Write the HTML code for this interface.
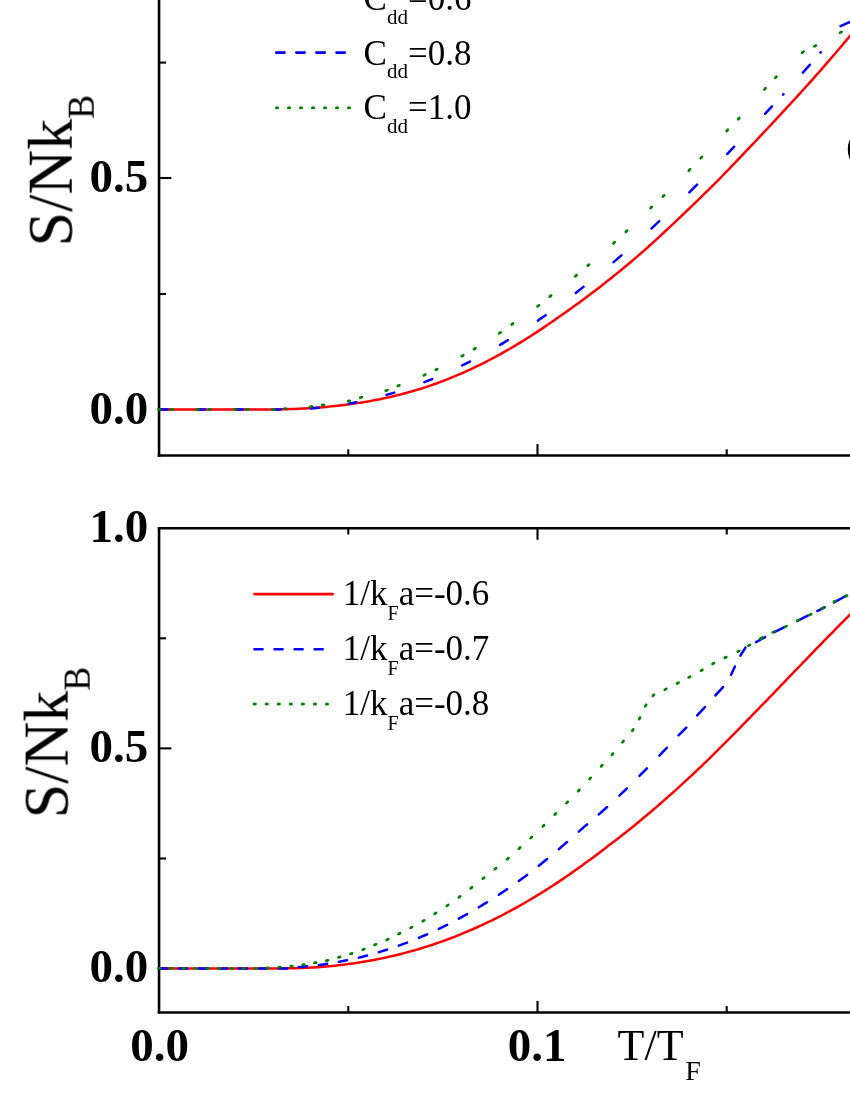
<!DOCTYPE html>
<html><head><meta charset="utf-8"><title>chart</title>
<style>
html,body{margin:0;padding:0;background:#fff;width:850px;height:1100px;overflow:hidden;font-family:"Liberation Serif",serif;}
svg{display:block;position:absolute;left:0;top:0}
</style></head><body>
<svg width="850" height="1100" viewBox="0 0 850 1100">
<rect width="850" height="1100" fill="#fff"/>
<g stroke="#000" fill="none" stroke-linecap="butt">
<path d="M159.05 -5 V456.9" stroke-width="2.6"/>
<path d="M157.75 455.6 H860" stroke-width="2.5"/>
<path d="M159.05 526.9 V1013.6" stroke-width="2.6"/>
<path d="M157.75 528.2 H860" stroke-width="2.6"/>
<path d="M157.75 1012.4 H860" stroke-width="2.5"/>
<path d="M159 62.6 H166" stroke-width="2.1"/>
<path d="M159 178 H171.4" stroke-width="2.1"/>
<path d="M159 294 H166" stroke-width="2.1"/>
<path d="M159 409.5 H171.4" stroke-width="2.1"/>
<path d="M159 638.3 H166" stroke-width="2.1"/>
<path d="M159 748.4 H171.4" stroke-width="2.1"/>
<path d="M159 858.5 H166" stroke-width="2.1"/>
<path d="M159 968.5 H171.4" stroke-width="2.1"/>
<path d="M348.3 455.6 V449.3" stroke-width="2.1"/>
<path d="M348.3 528.2 V534.5" stroke-width="2.1"/>
<path d="M348.3 1012.4 V1006.1" stroke-width="2.1"/>
<path d="M537.5 455.6 V444.1" stroke-width="2.1"/>
<path d="M537.5 528.2 V539.7" stroke-width="2.1"/>
<path d="M537.5 1012.4 V1000.9" stroke-width="2.1"/>
<path d="M726.7 455.6 V449.3" stroke-width="2.1"/>
<path d="M726.7 528.2 V534.5" stroke-width="2.1"/>
<path d="M726.7 1012.4 V1006.1" stroke-width="2.1"/>
</g>
<g fill="none" stroke-width="2.5">
<path d="M159.6 409.5 H260 L260 409.5 L263 409.5 L266 409.5 L269 409.5 L272 409.48 L275 409.45 L278 409.41 L281 409.36 L284 409.29 L287 409.21 L290 409.12 L293 409.01 L296 408.89 L299 408.75 L302 408.6 L305 408.44 L308 408.27 L311 408.08 L314 407.87 L317 407.65 L320 407.41 L323 407.16 L326 406.9 L329 406.62 L332 406.32 L335 406.01 L338 405.68 L341 405.33 L344 404.97 L347 404.59 L350 404.19 L353 403.77 L356 403.34 L359 402.88 L362 402.41 L365 401.92 L368 401.41 L371 400.87 L374 400.32 L377 399.75 L380 399.15 L383 398.54 L386 397.9 L389 397.24 L392 396.55 L395 395.84 L398 395.11 L401 394.35 L404 393.56 L407 392.76 L410 391.92 L413 391.06 L416 390.17 L419 389.26 L422 388.32 L425 387.35 L428 386.36 L431 385.34 L434 384.29 L437 383.21 L440 382.11 L443 380.98 L446 379.82 L449 378.63 L452 377.42 L455 376.18 L458 374.91 L461 373.62 L464 372.29 L467 370.94 L470 369.57 L473 368.16 L476 366.73 L479 365.27 L482 363.79 L485 362.28 L488 360.74 L491 359.17 L494 357.58 L497 355.96 L500 354.32 L503 352.65 L506 350.95 L509 349.23 L512 347.48 L515 345.7 L518 343.9 L521 342.08 L524 340.23 L527 338.36 L530 336.46 L533 334.53 L536 332.59 L539 330.62 L542 328.62 L545 326.6 L548 324.56 L551 322.5 L554 320.42 L557 318.31 L560 316.18 L563 314.1 L566 312.01 L569 309.89 L572 307.75 L575 305.6 L578 303.42 L581 301.22 L584 299.01 L587 296.77 L590 294.52 L593 292.24 L596 289.95 L599 287.64 L602 285.31 L605 282.96 L608 280.59 L611 278.21 L614 275.8 L617 273.37 L620 270.92 L623 268.45 L626 265.96 L629 263.46 L632 260.93 L635 258.39 L638 255.84 L641 253.26 L644 250.67 L647 248.01 L650 245.3 L653 242.57 L656 239.83 L659 237.07 L662 234.29 L665 231.5 L668 228.7 L671 225.88 L674 223.04 L677 220.19 L680 217.32 L683 214.48 L686 211.63 L689 208.76 L692 205.88 L695 202.98 L698 200.07 L701 197.15 L704 194.21 L707 191.26 L710 188.29 L713 185.32 L716 182.32 L719 179.32 L722 176.25 L725 173.16 L728 170.06 L731 166.95 L734 163.83 L737 160.7 L740 157.55 L743 154.4 L746 151.23 L749 148.06 L752 144.91 L755 141.75 L758 138.58 L761 135.4 L764 132.22 L767 129.02 L770 125.81 L773 122.59 L776 119.37 L779 116.14 L782 112.9 L785 109.65 L788 106.4 L791 103.13 L794 99.87 L797 96.59 L800 93.31 L803 90.03 L806 86.73 L809 83.43 L812 80.06 L815 76.66 L818 73.24 L821 69.81 L824 66.38 L827 62.93 L830 59.48 L833 56.01 L836 52.52 L839 48.98 L842 45.44 L845 41.87 L848 38.3 L851 34.76 L854 31.29 L857 27.81" stroke="#f00"/>
</g>
<g fill="none" stroke="#00f" stroke-width="2.5" stroke-linecap="round">
<path d="M160.6 409.5 H167.2"/>
<path d="M197.25 409.5 H205.05"/>
<path d="M235.1 409.5 H242.9"/>
<path d="M272.95 409.5 H280.75"/>
<path d="M310.8 408.42 L313.4 408.21 L316 407.99 L318.6 407.75"/>
<path d="M348.65 403.63 L351.25 403.16 L353.85 402.67 L356.45 402.16"/>
<path d="M386.5 394.9 L389.1 394.15 L391.7 393.39 L394.3 392.6"/>
<path d="M424.35 382.16 L426.95 381.14 L429.55 380.1 L432.15 379.04"/>
<path d="M462.2 365.45 L464.8 364.15 L467.4 362.84 L470 361.52"/>
<path d="M500.05 344.86 L502.65 343.31 L505.25 341.74 L507.85 340.15"/>
<path d="M537.9 320.6 L540.5 318.8 L543.1 316.99 L545.7 315.17"/>
<path d="M575.75 292.92 L578.35 290.9 L580.95 288.87 L583.55 286.82"/>
<path d="M613.6 262.11 L616.2 259.89 L618.8 257.65 L621.4 255.4"/>
<path d="M651.45 228.46 L654.05 226.06 L656.65 223.64 L659.25 221.21"/>
<path d="M689.3 192.31 L691.9 189.74 L694.5 187.16 L697.1 184.58"/>
<path d="M727.15 154.01 L729.48 151.58 L731.82 149.16 L734.15 146.72"/>
<path d="M765 113.95 L767.33 111.43 L769.67 108.91 L772 106.38"/>
<path d="M802.85 72.55 L805.18 69.97 L807.52 67.38 L809.85 64.79"/>
<path d="M840.6 26.2 L856 19"/>
<path d="M783.1 94.6 l0.4 -0.4"/>
<path d="M820.4 52.5 l0.4 -0.4"/>
</g>
<g fill="#007f00">
<ellipse cx="159.2" cy="409.5" rx="2.3" ry="1.45" transform="rotate(0 159.2 409.5)"/>
<ellipse cx="171.8" cy="409.5" rx="2.3" ry="1.45" transform="rotate(0 171.8 409.5)"/>
<ellipse cx="197.45" cy="409.5" rx="2.3" ry="1.45" transform="rotate(0 197.45 409.5)"/>
<ellipse cx="209.65" cy="409.5" rx="2.3" ry="1.45" transform="rotate(0 209.65 409.5)"/>
<ellipse cx="235.3" cy="409.5" rx="2.3" ry="1.45" transform="rotate(0 235.3 409.5)"/>
<ellipse cx="247.5" cy="409.5" rx="2.3" ry="1.45" transform="rotate(0 247.5 409.5)"/>
<ellipse cx="273.15" cy="409.5" rx="2.3" ry="1.45" transform="rotate(0 273.15 409.5)"/>
<ellipse cx="285.35" cy="408.6" rx="2.3" ry="1.45" transform="rotate(0 285.35 408.6)"/>
<ellipse cx="311" cy="406.6" rx="2.3" ry="1.45" transform="rotate(-7.59 311 406.6)"/>
<ellipse cx="323" cy="405" rx="2.3" ry="1.45" transform="rotate(-8.38 323 405)"/>
<ellipse cx="349" cy="401" rx="2.3" ry="1.45" transform="rotate(-11.31 349 401)"/>
<ellipse cx="361" cy="397.4" rx="2.3" ry="1.45" transform="rotate(-15.74 361 397.4)"/>
<ellipse cx="386.6" cy="390.4" rx="2.3" ry="1.45" transform="rotate(-17.42 386.6 390.4)"/>
<ellipse cx="398.6" cy="385.6" rx="2.3" ry="1.45" transform="rotate(-22.06 398.6 385.6)"/>
<ellipse cx="424.6" cy="375" rx="2.3" ry="1.45" transform="rotate(-23.09 424.6 375)"/>
<ellipse cx="436.6" cy="369.4" rx="2.3" ry="1.45" transform="rotate(-26.87 436.6 369.4)"/>
<ellipse cx="462.5" cy="355.8" rx="2.3" ry="1.45" transform="rotate(-28.52 462.5 355.8)"/>
<ellipse cx="474.7" cy="348.7" rx="2.3" ry="1.45" transform="rotate(-31.48 474.7 348.7)"/>
<ellipse cx="499.9" cy="332.9" rx="2.3" ry="1.45" transform="rotate(-33.23 499.9 332.9)"/>
<ellipse cx="512.4" cy="324" rx="2.3" ry="1.45" transform="rotate(-35.18 512.4 324)"/>
<ellipse cx="538.2" cy="305.9" rx="2.3" ry="1.45" transform="rotate(-36.31 538.2 305.9)"/>
<ellipse cx="550.5" cy="296" rx="2.3" ry="1.45" transform="rotate(-38.6 550.5 296)"/>
<ellipse cx="575.9" cy="275.8" rx="2.3" ry="1.45" transform="rotate(-39.1 575.9 275.8)"/>
<ellipse cx="588.4" cy="265.2" rx="2.3" ry="1.45" transform="rotate(-40.9 588.4 265.2)"/>
<ellipse cx="614" cy="242.8" rx="2.3" ry="1.45" transform="rotate(-41.66 614 242.8)"/>
<ellipse cx="626.5" cy="231.3" rx="2.3" ry="1.45" transform="rotate(-43.58 626.5 231.3)"/>
<ellipse cx="651.1" cy="207.5" rx="2.3" ry="1.45" transform="rotate(-43.73 651.1 207.5)"/>
<ellipse cx="663.5" cy="195.9" rx="2.3" ry="1.45" transform="rotate(-44.4 663.5 195.9)"/>
<ellipse cx="689.4" cy="170" rx="2.3" ry="1.45" transform="rotate(-45.38 689.4 170)"/>
<ellipse cx="701.3" cy="157.6" rx="2.3" ry="1.45" transform="rotate(-46.33 701.3 157.6)"/>
<ellipse cx="727.2" cy="130.4" rx="2.3" ry="1.45" transform="rotate(-46.12 727.2 130.4)"/>
<ellipse cx="738.8" cy="118.6" rx="2.3" ry="1.45" transform="rotate(-47.67 738.8 118.6)"/>
<ellipse cx="765" cy="88.9" rx="2.3" ry="1.45" transform="rotate(-48.07 765 88.9)"/>
<ellipse cx="775.9" cy="77.3" rx="2.3" ry="1.45" transform="rotate(-44.08 775.9 77.3)"/>
<ellipse cx="802.9" cy="52.2" rx="2.3" ry="1.45" transform="rotate(-38.62 802.9 52.2)"/>
<ellipse cx="815.2" cy="45.9" rx="2.3" ry="1.45" transform="rotate(-27.7 815.2 45.9)"/>
<ellipse cx="840.8" cy="32.3" rx="2.3" ry="1.45" transform="rotate(-27.98 840.8 32.3)"/>
</g>
<g fill="none" stroke-width="2.5">
<path d="M159.6 968.4 H260 L260 968.4 L263 968.4 L266 968.4 L269 968.4 L272 968.4 L275 968.4 L278 968.4 L281 968.4 L284 968.39 L287 968.36 L290 968.32 L293 968.26 L296 968.19 L299 968.1 L302 967.99 L305 967.86 L308 967.72 L311 967.56 L314 967.39 L317 967.19 L320 966.98 L323 966.75 L326 966.5 L329 966.24 L332 965.95 L335 965.65 L338 965.33 L341 964.99 L344 964.62 L347 964.25 L350 963.85 L353 963.43 L356 962.99 L359 962.53 L362 962.05 L365 961.55 L368 961.03 L371 960.49 L374 959.93 L377 959.35 L380 958.75 L383 958.13 L386 957.48 L389 956.82 L392 956.13 L395 955.42 L398 954.69 L401 953.94 L404 953.16 L407 952.37 L410 951.55 L413 950.71 L416 949.84 L419 948.96 L422 948.05 L425 947.12 L428 946.17 L431 945.19 L434 944.19 L437 943.17 L440 942.12 L443 941.06 L446 939.97 L449 938.85 L452 937.71 L455 936.55 L458 935.37 L461 934.16 L464 932.93 L467 931.67 L470 930.39 L473 929.09 L476 927.76 L479 926.41 L482 925.04 L485 923.64 L488 922.21 L491 920.77 L494 919.3 L497 917.8 L500 916.28 L503 914.74 L506 913.17 L509 911.58 L512 909.97 L515 908.33 L518 906.67 L521 904.98 L524 903.27 L527 901.53 L530 899.77 L533 897.99 L536 896.18 L539 894.35 L542 892.5 L545 890.62 L548 888.71 L551 886.79 L554 884.83 L557 882.86 L560 880.86 L563 878.84 L566 876.79 L569 874.72 L572 872.63 L575 870.51 L578 868.37 L581 866.22 L584 864.04 L587 861.85 L590 859.64 L593 857.41 L596 855.17 L599 852.93 L602 850.67 L605 848.4 L608 846.12 L611 843.84 L614 841.54 L617 839.23 L620 836.91 L623 834.56 L626 832.2 L629 829.82 L632 827.41 L635 824.98 L638 822.52 L641 820.05 L644 817.55 L647 815.03 L650 812.5 L653 809.94 L656 807.37 L659 804.78 L662 802.17 L665 799.54 L668 796.9 L671 794.24 L674 791.56 L677 788.86 L680 786.15 L683 783.41 L686 780.65 L689 777.88 L692 775.08 L695 772.27 L698 769.43 L701 766.57 L704 763.69 L707 760.78 L710 757.86 L713 754.91 L716 751.94 L719 748.95 L722 745.96 L725 742.95 L728 739.93 L731 736.91 L734 733.87 L737 730.83 L740 727.77 L743 724.71 L746 721.65 L749 718.57 L752 715.49 L755 712.41 L758 709.31 L761 706.22 L764 703.12 L767 700.01 L770 696.9 L773 693.79 L776 690.68 L779 687.56 L782 684.45 L785 681.33 L788 678.21 L791 675.09 L794 671.98 L797 668.86 L800 665.75 L803 662.64 L806 659.53 L809 656.42 L812 653.32 L815 650.22 L818 647.13 L821 644.05 L824 640.97 L827 637.89 L830 634.83 L833 631.77 L836 628.72 L839 625.68 L842 622.65 L845 619.63 L848 616.62 L851 613.63 L854 610.64 L857 607.67" stroke="#f00"/>
</g>
<g fill="none" stroke="#00f" stroke-width="2.5" stroke-linecap="round">
<path d="M160.6 968.4 H167.1"/>
<path d="M178.8 968.4 H187.1"/>
<path d="M198.8 968.4 H207.1"/>
<path d="M218.8 968.4 H227.1"/>
<path d="M238.8 968.4 H247.1"/>
<path d="M258.8 968.4 H267.1"/>
<path d="M278.8 968.4 H287.1"/>
<path d="M298.8 967.11 L301.57 966.88 L304.33 966.63 L307.1 966.36"/>
<path d="M318.8 965.02 L321.57 964.65 L324.33 964.25 L327.1 963.84"/>
<path d="M338.8 961.87 L341.57 961.35 L344.33 960.81 L347.1 960.24"/>
<path d="M358.8 957.62 L361.57 956.94 L364.33 956.24 L367.1 955.52"/>
<path d="M378.8 952.22 L381.57 951.38 L384.33 950.52 L387.1 949.64"/>
<path d="M398.8 945.65 L401.57 944.65 L404.33 943.62 L407.1 942.57"/>
<path d="M418.8 937.88 L421.57 936.71 L424.33 935.51 L427.1 934.3"/>
<path d="M438.8 928.89 L441.57 927.56 L444.33 926.2 L447.1 924.81"/>
<path d="M458.8 918.7 L461.57 917.19 L464.33 915.66 L467.1 914.11"/>
<path d="M478.8 907.29 L481.57 905.62 L484.33 903.93 L487.1 902.21"/>
<path d="M498.8 894.7 L501.57 892.86 L504.33 891 L507.1 889.12"/>
<path d="M518.8 880.93 L521.57 878.94 L524.33 876.92 L527.1 874.89"/>
<path d="M538.8 865.77 L541.57 863.54 L544.33 861.29 L547.1 859.02"/>
<path d="M558.8 849.19 L561.57 846.81 L564.33 844.42 L567.1 842"/>
<path d="M578.8 831.58 L581.57 829.07 L584.33 826.65 L587.1 824.34"/>
<path d="M598.8 814.36 L601.57 811.95 L604.33 809.49 L607.1 806.97"/>
<path d="M619.4 795.56 L621.9 793.2 L624.4 790.8 L626.9 788.35"/>
<path d="M639.4 775.96 L641.9 773.45 L644.4 770.92 L646.9 768.39"/>
<path d="M659.4 755.56 L661.9 752.96 L664.4 750.36 L666.9 747.75"/>
<path d="M678.51 735.29 L686.29 727.51"/>
<path d="M697.18 715.37 L704.92 707.03"/>
<path d="M715.47 695.46 L723.03 687.14"/>
<path d="M731.11 674.79 L734.89 666.51"/>
<path d="M740.43 655.65 L745.47 647.55"/>
<path d="M756.07 642.2 L765.03 637.1"/>
<path d="M774.4 632.16 L784.9 626.94"/>
<path d="M797.39 620.85 L807.81 615.65"/>
<path d="M817.29 611.05 L824.61 607.35"/>
<path d="M834.08 602.42 L846.12 595.78"/>
</g>
<g fill="#007f00">
<ellipse cx="159.2" cy="968.4" rx="2.3" ry="1.45" transform="rotate(0 159.2 968.4)"/>
<ellipse cx="171.6" cy="968.4" rx="2.3" ry="1.45" transform="rotate(0 171.6 968.4)"/>
<ellipse cx="183.6" cy="968.4" rx="2.3" ry="1.45" transform="rotate(0 183.6 968.4)"/>
<ellipse cx="195.6" cy="968.4" rx="2.3" ry="1.45" transform="rotate(0 195.6 968.4)"/>
<ellipse cx="207.6" cy="968.4" rx="2.3" ry="1.45" transform="rotate(0 207.6 968.4)"/>
<ellipse cx="219.6" cy="968.4" rx="2.3" ry="1.45" transform="rotate(0 219.6 968.4)"/>
<ellipse cx="231.6" cy="968.4" rx="2.3" ry="1.45" transform="rotate(0 231.6 968.4)"/>
<ellipse cx="243.6" cy="968.4" rx="2.3" ry="1.45" transform="rotate(0 243.6 968.4)"/>
<ellipse cx="255.6" cy="968.4" rx="2.3" ry="1.45" transform="rotate(0 255.6 968.4)"/>
<ellipse cx="267.6" cy="967.9" rx="2.3" ry="1.45" transform="rotate(0 267.6 967.9)"/>
<ellipse cx="279.6" cy="967.3" rx="2.3" ry="1.45" transform="rotate(0 279.6 967.3)"/>
<ellipse cx="291.6" cy="966.3" rx="2.3" ry="1.45" transform="rotate(0 291.6 966.3)"/>
<ellipse cx="303.5" cy="964.7" rx="2.3" ry="1.45" transform="rotate(-9.15 303.5 964.7)"/>
<ellipse cx="315.3" cy="962.8" rx="2.3" ry="1.45" transform="rotate(-10.09 315.3 962.8)"/>
<ellipse cx="327.1" cy="960.5" rx="2.3" ry="1.45" transform="rotate(-13.13 327.1 960.5)"/>
<ellipse cx="339.3" cy="957.2" rx="2.3" ry="1.45" transform="rotate(-15.91 339.3 957.2)"/>
<ellipse cx="351.3" cy="953.6" rx="2.3" ry="1.45" transform="rotate(-17.86 351.3 953.6)"/>
<ellipse cx="363.5" cy="949.4" rx="2.3" ry="1.45" transform="rotate(-20.35 363.5 949.4)"/>
<ellipse cx="375.3" cy="944.7" rx="2.3" ry="1.45" transform="rotate(-22.42 375.3 944.7)"/>
<ellipse cx="387.5" cy="939.5" rx="2.3" ry="1.45" transform="rotate(-24.82 387.5 939.5)"/>
<ellipse cx="399.3" cy="933.6" rx="2.3" ry="1.45" transform="rotate(-26.76 399.3 933.6)"/>
<ellipse cx="411.3" cy="927.5" rx="2.3" ry="1.45" transform="rotate(-28.06 411.3 927.5)"/>
<ellipse cx="423.5" cy="920.7" rx="2.3" ry="1.45" transform="rotate(-30.43 423.5 920.7)"/>
<ellipse cx="435.3" cy="913.4" rx="2.3" ry="1.45" transform="rotate(-32.52 435.3 913.4)"/>
<ellipse cx="447.5" cy="905.4" rx="2.3" ry="1.45" transform="rotate(-34.29 447.5 905.4)"/>
<ellipse cx="459.5" cy="896.9" rx="2.3" ry="1.45" transform="rotate(-36.48 459.5 896.9)"/>
<ellipse cx="471.3" cy="887.8" rx="2.3" ry="1.45" transform="rotate(-38.07 471.3 887.8)"/>
<ellipse cx="483.5" cy="878.1" rx="2.3" ry="1.45" transform="rotate(-38.28 483.5 878.1)"/>
<ellipse cx="495.5" cy="868.7" rx="2.3" ry="1.45" transform="rotate(-38.6 495.5 868.7)"/>
<ellipse cx="507.8" cy="858.7" rx="2.3" ry="1.45" transform="rotate(-40.64 507.8 858.7)"/>
<ellipse cx="519.5" cy="848.1" rx="2.3" ry="1.45" transform="rotate(-42.05 519.5 848.1)"/>
<ellipse cx="531.3" cy="837.5" rx="2.3" ry="1.45" transform="rotate(-42.9 531.3 837.5)"/>
<ellipse cx="543.5" cy="825.8" rx="2.3" ry="1.45" transform="rotate(-44.4 543.5 825.8)"/>
<ellipse cx="555.3" cy="814" rx="2.3" ry="1.45" transform="rotate(-44.63 555.3 814)"/>
<ellipse cx="567.1" cy="802.5" rx="2.3" ry="1.45" transform="rotate(-45 567.1 802.5)"/>
<ellipse cx="578.8" cy="790.5" rx="2.3" ry="1.45" transform="rotate(-46.22 578.8 790.5)"/>
<ellipse cx="590.1" cy="778.5" rx="2.3" ry="1.45" transform="rotate(-47.17 590.1 778.5)"/>
<ellipse cx="601.7" cy="765.8" rx="2.3" ry="1.45" transform="rotate(-47.33 601.7 765.8)"/>
<ellipse cx="612.5" cy="754.2" rx="2.3" ry="1.45" transform="rotate(-48.65 612.5 754.2)"/>
<ellipse cx="623" cy="741.6" rx="2.3" ry="1.45" transform="rotate(-49.89 623 741.6)"/>
<ellipse cx="632.8" cy="730.1" rx="2.3" ry="1.45" transform="rotate(-54.53 632.8 730.1)"/>
<ellipse cx="639.6" cy="718.3" rx="2.3" ry="1.45" transform="rotate(-62.23 639.6 718.3)"/>
<ellipse cx="645.7" cy="705.6" rx="2.3" ry="1.45" transform="rotate(-59.22 645.7 705.6)"/>
<ellipse cx="653.3" cy="695.3" rx="2.3" ry="1.45" transform="rotate(-39.49 653.3 695.3)"/>
<ellipse cx="665.6" cy="689.2" rx="2.3" ry="1.45" transform="rotate(-26.47 665.6 689.2)"/>
<ellipse cx="677.8" cy="683.1" rx="2.3" ry="1.45" transform="rotate(-27.14 677.8 683.1)"/>
<ellipse cx="689.4" cy="677" rx="2.3" ry="1.45" transform="rotate(-28.36 689.4 677)"/>
<ellipse cx="701.7" cy="670.2" rx="2.3" ry="1.45" transform="rotate(-29.46 701.7 670.2)"/>
<ellipse cx="713.3" cy="663.5" rx="2.3" ry="1.45" transform="rotate(-28.27 713.3 663.5)"/>
<ellipse cx="725.5" cy="657.4" rx="2.3" ry="1.45" transform="rotate(-25.92 725.5 657.4)"/>
<ellipse cx="738.4" cy="651.3" rx="2.3" ry="1.45" transform="rotate(-27.34 738.4 651.3)"/>
<ellipse cx="749.1" cy="645.2" rx="2.3" ry="1.45" transform="rotate(-29.96 749.1 645.2)"/>
<ellipse cx="761.3" cy="638.1" rx="2.3" ry="1.45" transform="rotate(-28.41 761.3 638.1)"/>
<ellipse cx="773.5" cy="632" rx="2.3" ry="1.45" transform="rotate(-25.34 773.5 632)"/>
<ellipse cx="785.8" cy="626.5" rx="2.3" ry="1.45" transform="rotate(-25.34 785.8 626.5)"/>
<ellipse cx="798" cy="620.4" rx="2.3" ry="1.45" transform="rotate(-25.91 798 620.4)"/>
<ellipse cx="810.3" cy="614.6" rx="2.3" ry="1.45" transform="rotate(-26.66 810.3 614.6)"/>
<ellipse cx="822.5" cy="608.1" rx="2.3" ry="1.45" transform="rotate(-28.41 822.5 608.1)"/>
<ellipse cx="834.7" cy="601.4" rx="2.3" ry="1.45" transform="rotate(-27.14 834.7 601.4)"/>
<ellipse cx="846.3" cy="595.9" rx="2.3" ry="1.45" transform="rotate(-25.37 846.3 595.9)"/>
</g>
<g fill="none" stroke-width="2.6" stroke-linecap="round">
<path d="M276.2 52.6 H345" stroke="#00f" stroke-dasharray="8.4 11.7"/>
<path d="M254.5 594.1 H332.7" stroke="#f00"/>
<path d="M254.5 649.2 H323" stroke="#00f" stroke-dasharray="8 12.05"/>
</g>
<g fill="#007f00">
<ellipse cx="277" cy="107.8" rx="2.1" ry="1.5"/>
<ellipse cx="289" cy="107.8" rx="2.1" ry="1.5"/>
<ellipse cx="301" cy="107.8" rx="2.1" ry="1.5"/>
<ellipse cx="313" cy="107.8" rx="2.1" ry="1.5"/>
<ellipse cx="325" cy="107.8" rx="2.1" ry="1.5"/>
<ellipse cx="337" cy="107.8" rx="2.1" ry="1.5"/>
<ellipse cx="349" cy="107.8" rx="2.1" ry="1.5"/>
<ellipse cx="254.7" cy="704" rx="2.1" ry="1.5"/>
<ellipse cx="266.75" cy="704" rx="2.1" ry="1.5"/>
<ellipse cx="278.8" cy="704" rx="2.1" ry="1.5"/>
<ellipse cx="290.85" cy="704" rx="2.1" ry="1.5"/>
<ellipse cx="302.9" cy="704" rx="2.1" ry="1.5"/>
<ellipse cx="314.95" cy="704" rx="2.1" ry="1.5"/>
<ellipse cx="327" cy="704" rx="2.1" ry="1.5"/>
</g>
<g font-family="'Liberation Serif', serif" fill="#000" opacity="0.999">
<text x="148.2" y="192.2" text-anchor="end" font-weight="bold" font-size="47">0.5</text>
<text x="148.2" y="423.5" text-anchor="end" font-weight="bold" font-size="47">0.0</text>
<text x="148.2" y="541.6" text-anchor="end" font-weight="bold" font-size="47">1.0</text>
<text x="148.2" y="762.2" text-anchor="end" font-weight="bold" font-size="47">0.5</text>
<text x="148.2" y="982.4" text-anchor="end" font-weight="bold" font-size="47">0.0</text>
<text x="159.5" y="1060.8" text-anchor="middle" font-weight="bold" font-size="47">0.0</text>
<text x="537" y="1060.8" text-anchor="middle" font-weight="bold" font-size="47">0.1</text>
<text x="617.6" y="1060.2" font-size="44">T/T<tspan font-size="28" dy="20" dx="1.6">F</tspan></text>
<text transform="translate(71.4 246.4) rotate(-90) scale(1 1.03)" font-size="62">S/Nk<tspan font-size="36" dy="22">B</tspan></text>
<text transform="translate(67.3 818.3) rotate(-90) scale(1 1.03)" font-size="62">S/Nk<tspan font-size="36" dy="22">B</tspan></text>
<text x="363.6" y="10" font-size="35">C<tspan font-size="21" dy="13.8">dd</tspan><tspan dy="-13.8">=0.6</tspan></text>
<text x="363.6" y="64.5" font-size="35">C<tspan font-size="21" dy="13.8">dd</tspan><tspan dy="-13.8">=0.8</tspan></text>
<text x="363.6" y="119" font-size="35">C<tspan font-size="21" dy="13.8">dd</tspan><tspan dy="-13.8">=1.0</tspan></text>
<text x="342.8" y="605.1" font-size="35">1/k<tspan font-size="20" dy="15.2">F</tspan><tspan dy="-15.2">a=-0.6</tspan></text>
<text x="342.8" y="660.1" font-size="35">1/k<tspan font-size="20" dy="15.2">F</tspan><tspan dy="-15.2">a=-0.7</tspan></text>
<text x="342.8" y="715.2" font-size="35">1/k<tspan font-size="20" dy="15.2">F</tspan><tspan dy="-15.2">a=-0.8</tspan></text>
</g>
<ellipse cx="853.5" cy="149.5" rx="5.7" ry="12.6" fill="#000"/>
</svg>
</body></html>
